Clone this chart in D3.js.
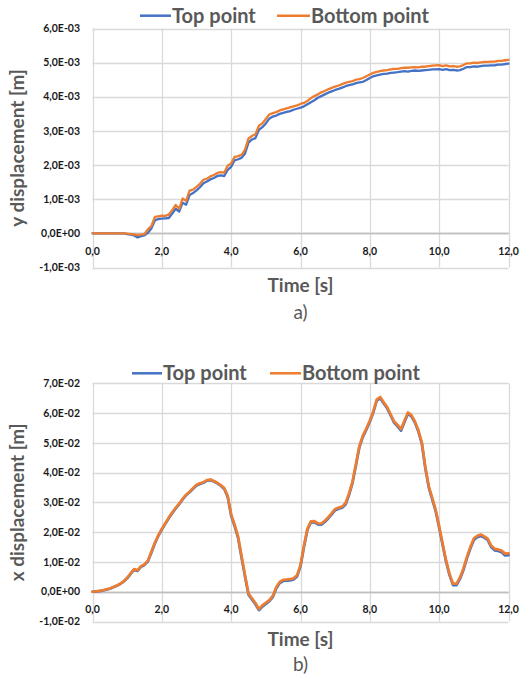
<!DOCTYPE html>
<html><head><meta charset="utf-8">
<script src="https://cdn.jsdelivr.net/npm/d3@7"></script>
<style>html,body{margin:0;padding:0;background:#fff;}svg{display:block;}</style>
</head><body>
<svg id="c" width="529" height="675"></svg>
<script>
// ---- DATA ----
const seriesNames = ["Top point", "Bottom point"];
const xTicks = [0, 2, 4, 6, 8, 10, 12];
const xTickLabels = ["0,0", "2,0", "4,0", "6,0", "8,0", "10,0", "12,0"];
const yTicksA = [-1e-3, 0, 1e-3, 2e-3, 3e-3, 4e-3, 5e-3, 6e-3];
const yTickLabelsA = ["-1,0E-03", "0,0E+00", "1,0E-03", "2,0E-03", "3,0E-03", "4,0E-03", "5,0E-03", "6,0E-03"];
const yTicksB = [-1e-2, 0, 1e-2, 2e-2, 3e-2, 4e-2, 5e-2, 6e-2, 7e-2];
const yTickLabelsB = ["-1,0E-02", "0,0E+00", "1,0E-02", "2,0E-02", "3,0E-02", "4,0E-02", "5,0E-02", "6,0E-02", "7,0E-02"];
// time samples (s), every 0.1 s from 0 to 12
const time = d3.range(121).map(i => i / 10);
// a) y displacement, in units of 1E-3 m
const yTop = [0,0,0,0,0,0,0,0,0,0,
  -0.02,-0.04,-0.06,-0.12,-0.08,-0.06,0.02,0.15,0.38,0.42,
  0.43,0.44,0.45,0.58,0.72,0.64,0.90,0.84,1.12,1.18,
  1.26,1.35,1.47,1.52,1.58,1.62,1.68,1.70,1.68,1.86,
  1.95,2.14,2.17,2.21,2.34,2.66,2.75,2.79,3.03,3.11,
  3.22,3.36,3.42,3.45,3.50,3.53,3.56,3.58,3.62,3.65,
  3.68,3.72,3.78,3.84,3.90,3.97,4.02,4.07,4.12,4.16,
  4.20,4.23,4.27,4.31,4.34,4.36,4.40,4.42,4.44,4.49,
  4.55,4.60,4.63,4.65,4.67,4.68,4.70,4.71,4.72,4.74,
  4.75,4.74,4.76,4.77,4.76,4.77,4.78,4.79,4.80,4.80,
  4.81,4.79,4.81,4.78,4.79,4.77,4.78,4.82,4.87,4.87,
  4.89,4.88,4.90,4.91,4.91,4.92,4.92,4.94,4.94,4.96,4.97];
const yBottom = [0,0,0,0,0,0,0,0,0,0,
  -0.01,-0.02,-0.03,-0.05,-0.04,-0.02,0.12,0.22,0.48,0.50,
  0.52,0.51,0.55,0.68,0.83,0.72,1.02,0.95,1.25,1.28,
  1.36,1.45,1.57,1.60,1.67,1.71,1.77,1.79,1.78,1.98,
  2.05,2.24,2.26,2.30,2.45,2.78,2.85,2.90,3.15,3.22,
  3.35,3.48,3.52,3.55,3.60,3.63,3.66,3.69,3.72,3.75,
  3.79,3.82,3.88,3.96,4.02,4.07,4.13,4.17,4.22,4.26,
  4.30,4.33,4.37,4.41,4.44,4.46,4.50,4.52,4.55,4.60,
  4.65,4.70,4.73,4.75,4.77,4.78,4.80,4.82,4.82,4.84,
  4.85,4.85,4.86,4.87,4.86,4.88,4.88,4.90,4.91,4.92,
  4.93,4.90,4.92,4.89,4.90,4.88,4.89,4.93,4.98,4.98,
  5.00,4.99,5.01,5.02,5.02,5.03,5.03,5.05,5.05,5.07,5.08];
// b) x displacement, in units of 1E-2 m
const xTop = [0.00,0.01,0.02,0.04,0.07,0.10,0.15,0.20,0.26,0.34,
  0.45,0.60,0.74,0.70,0.84,0.90,1.02,1.32,1.62,1.88,
  2.09,2.28,2.47,2.64,2.80,2.94,3.10,3.24,3.34,3.46,
  3.57,3.62,3.66,3.73,3.75,3.70,3.64,3.56,3.45,3.18,
  2.55,2.20,1.80,1.14,0.50,-0.10,-0.26,-0.42,-0.62,-0.50,
  -0.41,-0.32,-0.18,0.11,0.29,0.36,0.37,0.38,0.41,0.51,
  0.85,1.50,2.08,2.33,2.34,2.26,2.25,2.34,2.46,2.60,
  2.74,2.79,2.82,2.93,3.25,3.65,4.25,4.86,5.20,5.44,
  5.71,6.02,6.42,6.50,6.32,6.16,5.92,5.68,5.55,5.41,
  5.70,5.98,5.89,5.68,5.38,4.97,4.15,3.50,3.10,2.70,
  2.15,1.57,1.00,0.55,0.22,0.22,0.43,0.73,1.12,1.45,
  1.74,1.83,1.87,1.82,1.74,1.50,1.39,1.37,1.33,1.22,1.23];
const xBottom = [0.00,0.01,0.03,0.05,0.08,0.11,0.16,0.21,0.27,0.35,
  0.47,0.62,0.76,0.72,0.86,0.92,1.05,1.35,1.65,1.90,
  2.11,2.30,2.49,2.66,2.82,2.96,3.12,3.26,3.36,3.48,
  3.59,3.64,3.68,3.75,3.77,3.72,3.66,3.58,3.48,3.22,
  2.60,2.25,1.85,1.20,0.55,-0.06,-0.22,-0.38,-0.58,-0.46,
  -0.37,-0.28,-0.14,0.15,0.33,0.40,0.41,0.42,0.45,0.55,
  0.90,1.55,2.12,2.36,2.37,2.30,2.29,2.38,2.50,2.64,
  2.78,2.83,2.86,2.98,3.30,3.70,4.30,4.90,5.25,5.48,
  5.75,6.06,6.46,6.54,6.36,6.20,5.96,5.72,5.60,5.46,
  5.75,6.02,5.93,5.72,5.42,5.02,4.20,3.55,3.15,2.75,
  2.20,1.62,1.05,0.60,0.27,0.27,0.48,0.78,1.17,1.50,
  1.79,1.88,1.92,1.86,1.78,1.55,1.44,1.42,1.38,1.28,1.29];

// ---- DRAW ----
const svg = d3.select("#c");
const FONT = "Lato, 'Open Sans', sans-serif";
const colors = ["#4472C4", "#ED7D31"];

function panel(cfg) {
  const g = svg.append("g");
  const x = d3.scaleLinear().domain([0, 12]).range([92.5, 508.5]);
  const y = d3.scaleLinear().domain(cfg.yDomain).range([cfg.bottom, cfg.top]);

  // gridlines
  g.append("g").selectAll("line.h").data(cfg.yTicks).join("line")
    .attr("x1", x(0)).attr("x2", x(12))
    .attr("y1", d => Math.round(y(d)) + 0.5).attr("y2", d => Math.round(y(d)) + 0.5)
    .attr("stroke", d => d === 0 ? "#BFBFBF" : "#D9D9D9").attr("stroke-width", 1.3);
  g.append("g").selectAll("line.v").data(xTicks).join("line")
    .attr("x1", d => Math.round(x(d)) + 0.5).attr("x2", d => Math.round(x(d)) + 0.5)
    .attr("y1", cfg.top).attr("y2", cfg.bottom)
    .attr("stroke", "#D9D9D9").attr("stroke-width", 1.3);
  // x axis line at 0 redrawn on top of vertical grid
  g.append("line").attr("x1", x(0)).attr("x2", x(12))
    .attr("y1", Math.round(y(0)) + 0.5).attr("y2", Math.round(y(0)) + 0.5)
    .attr("stroke", "#BFBFBF").attr("stroke-width", 1.3);

  // y tick labels
  g.append("g").selectAll("text").data(cfg.yTicks).join("text")
    .attr("x", 80).attr("y", d => y(d)).attr("dy", "0.35em")
    .attr("text-anchor", "end").attr("font-family", FONT).attr("font-weight", "bold")
    .attr("font-size", 10.5).attr("fill", "#1a1a1a")
    .text((d, i) => cfg.yTickLabels[i]);
  // x tick labels (just below the zero line)
  g.append("g").selectAll("text").data(xTicks).join("text")
    .attr("x", d => x(d)).attr("y", y(0) + cfg.xLabOff).attr("dy", "0.35em")
    .attr("text-anchor", "middle").attr("font-family", FONT).attr("font-weight", "bold")
    .attr("font-size", 10.5).attr("fill", "#1a1a1a")
    .text((d, i) => xTickLabels[i]);

  // lines
  const line = d3.line().x((d, i) => x(time[i])).y(d => y(d * cfg.unit));
  cfg.series.forEach((s, k) => {
    g.append("path").datum(s).attr("d", line).attr("fill", "none")
      .attr("stroke", colors[k]).attr("stroke-width", cfg.lw)
      .attr("stroke-linejoin", "round").attr("stroke-linecap", "round");
  });

  // axis titles
  g.append("text").attr("x", 300.5).attr("y", cfg.bottom + 17.5).attr("dy", "0.35em")
    .attr("text-anchor", "middle").attr("font-family", FONT).attr("font-weight", "bold")
    .attr("font-size", 19).attr("fill", "#595959").text("Time [s]");
  g.append("text").attr("transform", `translate(17.5,${(cfg.top + cfg.bottom) / 2}) rotate(-90)`)
    .attr("dy", "0.35em").attr("text-anchor", "middle").attr("font-family", FONT)
    .attr("font-weight", "bold").attr("font-size", 19).attr("fill", "#595959")
    .text(cfg.yTitle);
  g.append("text").attr("x", 300.5).attr("y", cfg.bottom + cfg.subOff).attr("dy", "0.35em")
    .attr("text-anchor", "middle").attr("font-family", FONT)
    .attr("font-size", 19).attr("fill", "#595959").text(cfg.sub);

  // legend
  const lg = g.append("g");
  cfg.legend.forEach((L, k) => {
    lg.append("line").attr("x1", L[0]).attr("x2", L[1]).attr("y1", cfg.legY).attr("y2", cfg.legY)
      .attr("stroke", colors[k]).attr("stroke-width", 2.5);
    lg.append("text").attr("x", L[1] + 1).attr("y", cfg.legBase)
      .attr("font-family", FONT).attr("font-weight", "bold").attr("font-size", 20)
      .attr("fill", "#595959").text(seriesNames[k]);
  });
}

panel({
  top: 28.5, bottom: 267.5, yDomain: [-1e-3, 6e-3], yTicks: yTicksA, yTickLabels: yTickLabelsA,
  unit: 1e-3, series: [yTop, yBottom], lw: 2.3, xLabOff: 18,
  yTitle: "y displacement [m]", sub: "a)", subOff: 44.5,
  legY: 15.7, legBase: 22.5, legend: [[140, 171], [277, 310]]
});
panel({
  top: 383.3, bottom: 621.5, yDomain: [-1e-2, 7e-2], yTicks: yTicksB, yTickLabels: yTickLabelsB,
  unit: 1e-2, series: [xTop, xBottom], lw: 2.7, xLabOff: 17.5,
  yTitle: "x displacement [m]", sub: "b)", subOff: 42.5,
  legY: 373.3, legBase: 379.5, legend: [[132, 162], [270, 301]]
});
</script>
</body></html>
